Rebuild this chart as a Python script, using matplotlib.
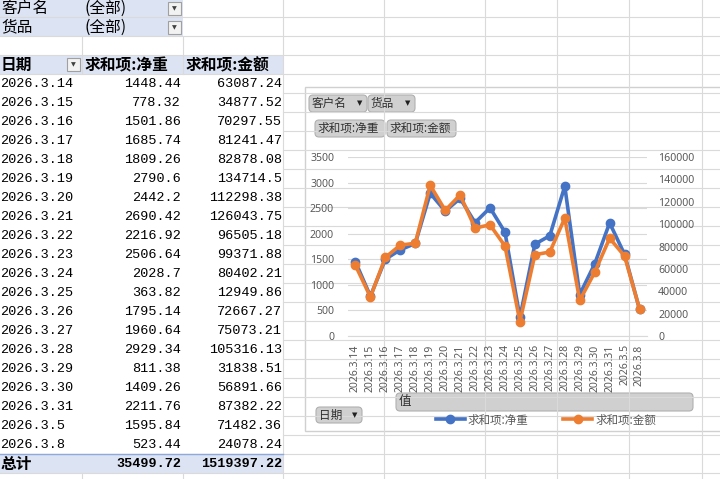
import numpy as np
import matplotlib.pyplot as plt
from matplotlib.patches import Rectangle, FancyBboxPatch

plt.rcParams['font.family'] = ['Noto Sans CJK SC', 'DejaVu Sans']

dates = ['2026.3.14', '2026.3.15', '2026.3.16', '2026.3.17', '2026.3.18',
         '2026.3.19', '2026.3.20', '2026.3.21', '2026.3.22', '2026.3.23',
         '2026.3.24', '2026.3.25', '2026.3.26', '2026.3.27', '2026.3.28',
         '2026.3.29', '2026.3.30', '2026.3.31', '2026.3.5', '2026.3.8']
weight = [1448.44, 778.32, 1501.86, 1685.74, 1809.26, 2790.6, 2442.2, 2690.42,
          2216.92, 2506.64, 2028.7, 363.82, 1795.14, 1960.64, 2929.34, 811.38,
          1409.26, 2211.76, 1595.84, 523.44]
amount = [63087.24, 34877.52, 70297.55, 81241.47, 82878.08, 134714.5, 112298.38,
          126043.75, 96505.18, 99371.88, 80402.21, 12949.86, 72667.27, 75073.21,
          105316.13, 31838.51, 56891.66, 87382.22, 71482.36, 24078.24]
total_weight = '35499.72'
total_amount = '1519397.22'
name_w = '求和项:净重'
name_a = '求和项:金额'

W, H = 720, 479
BLUE = '#4472C4'
ORANGE = '#ED7D31'
FILL = '#dce3f3'
GRID = '#dadada'
MONO = ['Liberation Mono', 'DejaVu Sans Mono']

fig = plt.figure(figsize=(W / 100, H / 100), dpi=100)
bg = fig.add_axes([0, 0, 1, 1])
bg.set_xlim(0, W)
bg.set_ylim(H, 0)
bg.axis('off')

# spreadsheet grid
cols = [82, 183, 283, 384, 485, 557, 629, 702]
rows = [17 + 19 * k for k in range(26)]
for y in rows:
    if 74 < y < 454:
        bg.plot([283, W], [y, y], color=GRID, lw=0.8)
    else:
        bg.plot([0, W], [y, y], color=GRID, lw=0.8)
for x in cols:
    if x < 283:
        bg.plot([x, x], [36, 74], color=GRID, lw=0.8)
        bg.plot([x, x], [473, H], color=GRID, lw=0.8)
    else:
        bg.plot([x, x], [0, H], color=GRID, lw=0.8)

# pivot table fills
bg.add_patch(Rectangle((0, -2), 183, 38, color=FILL, lw=0))
bg.add_patch(Rectangle((0, 55), 283, 19, color=FILL, lw=0))
bg.add_patch(Rectangle((0, 454), 283, 19, color=FILL, lw=0))
bg.add_patch(Rectangle((0, 74), 283, 380, color='white', lw=0))
bg.plot([0, 283], [454, 454], color='#8ea9db', lw=1)


def dropbox(x, y):
    bg.add_patch(Rectangle((x, y), 13, 13, facecolor='#f2f2f2', edgecolor='#a0a0a0', lw=0.8))
    bg.text(x + 6.5, y + 7, '▼', fontsize=4.5, color='#404040', ha='center', va='center',
            family='DejaVu Sans')


bg.text(1, 8, '客户名', fontsize=11.3, va='center')
bg.text(85, 8, '(全部)', fontsize=11.3, va='center')
bg.text(1, 27, '货品', fontsize=11.3, va='center')
bg.text(85, 27, '(全部)', fontsize=11.3, va='center')
dropbox(168, 2)
dropbox(168, 21)

bg.text(1, 65, '日期', fontsize=11.3, va='center', fontweight='bold')
bg.text(85, 65, name_w, fontsize=11.3, va='center', fontweight='bold')
bg.text(186, 65, name_a, fontsize=11.3, va='center', fontweight='bold')
dropbox(67, 58)

for i, d in enumerate(dates):
    y = 84 + 19 * i
    bg.text(0, y, d, fontsize=9.7, va='center', family=MONO)
    bg.text(181, y, f'{weight[i]:g}', fontsize=9.7, va='center', ha='right', family=MONO)
    bg.text(282, y, f'{amount[i]:.2f}'.rstrip('0').rstrip('.'), fontsize=9.7, va='center',
            ha='right', family=MONO)

bg.text(1, 464, '总计', fontsize=11.3, va='center', fontweight='bold')
bg.text(181, 464, total_weight, fontsize=9.7, va='center', ha='right', family=MONO,
        fontweight='bold')
bg.text(282, 464, total_amount, fontsize=9.7, va='center', ha='right', family=MONO,
        fontweight='bold')

# chart area
bg.add_patch(Rectangle((305, 87), 430, 344, facecolor='white', edgecolor='#d0d0d0', lw=1))


def button(x, y, w, h, label, arrow=False, size=8.4):
    bg.add_patch(FancyBboxPatch((x, y), w, h, boxstyle='round,pad=0,rounding_size=4',
                                facecolor='#d0d0d0', edgecolor='#b0b0b0', lw=0.8))
    bg.text(x + 3, y + h / 2, label, fontsize=size, va='center', color='#303030')
    if arrow:
        bg.text(x + w - 7, y + h / 2, '▼', fontsize=5, va='center', ha='center',
                color='#202020', family='DejaVu Sans')


button(309, 95, 58, 17, '客户名', arrow=True)
button(368, 95, 47, 17, '货品', arrow=True)
button(315, 120, 70, 17, name_w)
button(387, 120, 69, 17, name_a)
button(396, 393, 297, 18, '值', size=9)
button(316, 407, 46, 16, '日期', arrow=True)

# line chart
ax = fig.add_axes([348 / W, 1 - 336 / H, 299 / W, 179 / H])
ax2 = ax.twinx()
x = np.arange(len(dates))
l1, = ax.plot(x, weight, color=BLUE, lw=2.6, marker='o', ms=6)
l2, = ax2.plot(x, amount, color=ORANGE, lw=2.6, marker='o', ms=6)
ax.set_zorder(1)
ax2.set_zorder(2)
ax.patch.set_visible(False)
ax2.patch.set_visible(False)

ax.set_ylim(0, 3500)
ax2.set_ylim(0, 160000)
ax.set_xlim(-0.5, len(dates) - 0.5)
ax.set_yticks(np.arange(0, 3501, 500))
ax2.set_yticks(np.arange(0, 160001, 20000))
ax.grid(axis='y', color='#d9d9d9', lw=0.8)
ax.set_axisbelow(True)
ax.set_xticks(x)
ax.set_xticklabels(dates, rotation=90, color='#595959', family='Noto Sans')
for a in (ax, ax2):
    for s in a.spines.values():
        s.set_visible(False)
    a.tick_params(length=0, labelsize=7.6, labelcolor='#595959')
ax.tick_params(axis='y', pad=10)
ax2.tick_params(axis='y', pad=8)
ax.tick_params(axis='x', pad=6, labelsize=7.5)
for t in ax.get_yticklabels() + ax2.get_yticklabels():
    t.set_family('Noto Sans')
ax.spines['bottom'].set_visible(True)
ax.spines['bottom'].set_color('#d9d9d9')

fig.legend([l1, l2], [name_w, name_a], ncol=2, frameon=False, fontsize=8.3,
           labelcolor='#595959', handlelength=2.5, columnspacing=3.0, handletextpad=0.3,
           loc='center', bbox_to_anchor=(546 / W, 1 - 420 / H))

plt.savefig('out.png', dpi=100)
